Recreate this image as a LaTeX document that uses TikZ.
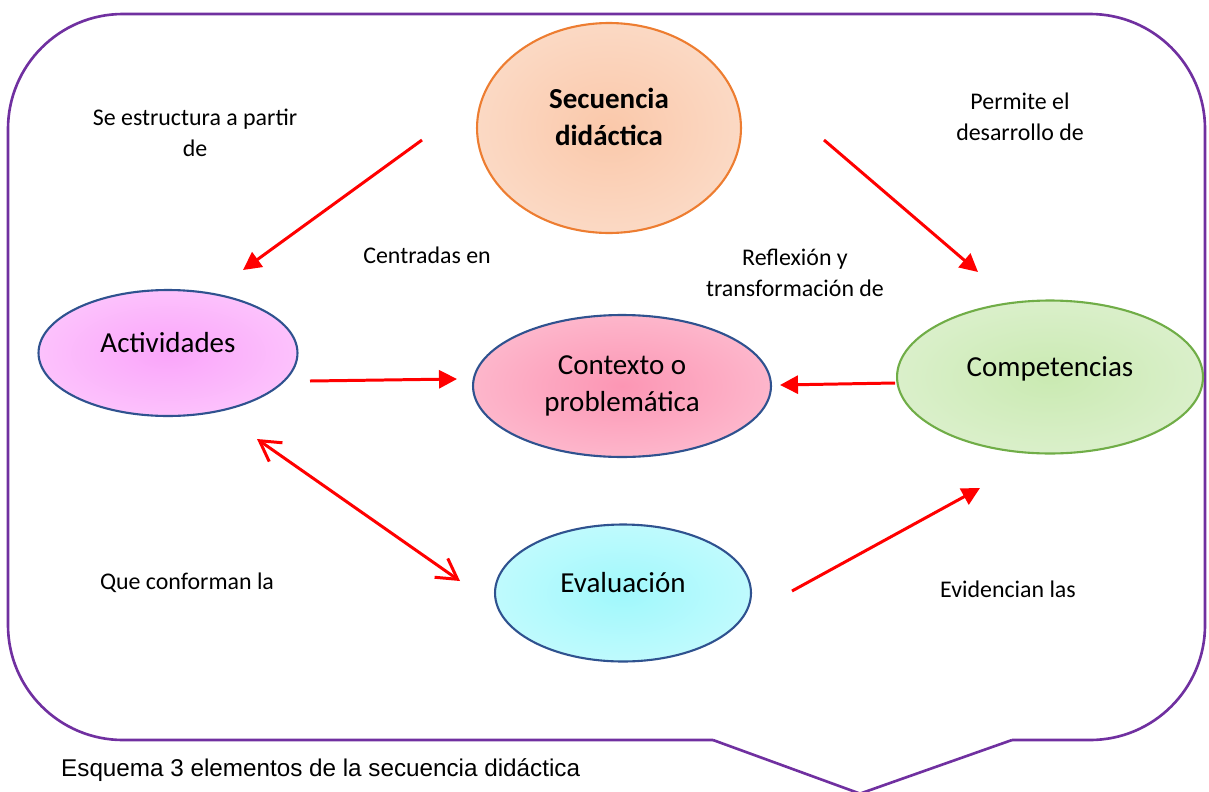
\documentclass[tikz,border=0pt]{standalone}
\usepackage{fontspec}
\setmainfont{Carlito}
\newfontfamily\piefont{Liberation Sans}
\usetikzlibrary{shapes.geometric,arrows.meta}

\definecolor{marco}{RGB}{112,48,160}
\definecolor{naranja}{RGB}{237,125,49}
\definecolor{azul}{RGB}{47,82,143}
\definecolor{verde}{RGB}{112,173,71}
\colorlet{burbin}{white}
\colorlet{burbout}{white}
\pgfdeclareradialshading[burbin,burbout]{burbuja}{\pgfpoint{0cm}{0cm}}{color(0bp)=(burbin); color(50bp)=(burbout); color(72bp)=(burbout)}

\tikzset{
    centro/.code={\colorlet{burbin}{#1}},
    orilla/.code={\colorlet{burbout}{#1}},
    burbuja/.style={ellipse, inner sep=0pt, line width=1.2pt, shading=burbuja, align=center,
        font=\fontsize{16.5}{21}\selectfont},
    subir/.style={text height=0.7em, text depth=0.8em},
    etiqueta/.style={align=center, font=\fontsize{13.6}{17.9}\selectfont},
    flecha/.style={red, line width=1.7pt, -{Triangle[length=3.6mm,width=3.6mm]}},
    doble/.style={red, line width=1.7pt, {Straight Barb[length=4mm,width=4.6mm]}-{Straight Barb[length=4mm,width=4.6mm]}},
}

\begin{document}
\begin{tikzpicture}[x=0.02cm, y=-0.02cm]
    \useasboundingbox (0,0) rectangle (1209,791);

    % marco del esquema
    \draw[marco, line width=1.5pt, rounded corners=2.3cm] (713,740) -- (8,740) -- (8,14) -- (1205,14) -- (1205,740) -- (1012,740);
    \draw[marco, line width=1.5pt, line join=round] (713,740) -- (860,793.6) -- (1012,740);

    % elementos
    \node[burbuja, draw=naranja, centro={rgb,255:red,250;green,200;blue,170}, orilla={rgb,255:red,253;green,234;blue,222},
        minimum width=5.28cm, minimum height=4.2cm, text height=2.5em, text depth=0.5em] (sec) at (609,128) {\textbf{Secuencia}\\\textbf{didáctica}};
    \node[burbuja, draw=azul, centro={rgb,255:red,250;green,165;blue,250}, orilla={rgb,255:red,254;green,222;blue,254},
        minimum width=5.18cm, minimum height=2.52cm, subir] (act) at (168,353) {Actividades};
    \node[burbuja, draw=azul, centro={rgb,255:red,252;green,150;blue,180}, orilla={rgb,255:red,254;green,214;blue,226},
        minimum width=5.96cm, minimum height=2.84cm] (ctx) at (622,386) {Contexto o\\problemática};
    \node[burbuja, draw=verde, centro={rgb,255:red,202;green,234;blue,178}, orilla={rgb,255:red,234;green,245;blue,226},
        minimum width=6.12cm, minimum height=3.06cm, subir] (comp) at (1050,377) {Competencias};
    \node[burbuja, draw=azul, centro={rgb,255:red,160;green,248;blue,252}, orilla={rgb,255:red,222;green,253;blue,254},
        minimum width=5.12cm, minimum height=2.74cm, subir] (eval) at (623,593) {Evaluación};

    % textos de las relaciones
    \node[etiqueta] (estructura) at (195,133) {Se estructura a partir\\de};
    \node[etiqueta] (permite) at (1020,117) {Permite el\\desarrollo de};
    \node[etiqueta] (centradas) at (427,255) {Centradas en};
    \node[etiqueta] (reflexion) at (795,273) {Reflexión y\\transformación de};
    \node[etiqueta] (conforman) at (187,583) {Que conforman la};
    \node[etiqueta] (evidencian) at (1008,589) {Evidencian las};

    % extremos de las flechas
    \coordinate (s1) at (422,140);   \coordinate (s2) at (243,270);
    \coordinate (p1) at (824,140);   \coordinate (p2) at (978,272);
    \coordinate (c1) at (310,381);   \coordinate (c2) at (457,379);
    \coordinate (r1) at (895,383);   \coordinate (r2) at (780,385);
    \coordinate (q1) at (257,439);   \coordinate (q2) at (460,581);
    \coordinate (e1) at (792,591);   \coordinate (e2) at (980,488);

    \draw[flecha] (s1) -- (s2);
    \draw[flecha] (p1) -- (p2);
    \draw[flecha] (c1) -- (c2);
    \draw[flecha] (r1) -- (r2);
    \draw[doble] (q1) -- (q2);
    \draw[flecha] (e1) -- (e2);

    \node[anchor=west, font=\piefont\fontsize{13.8}{16}\selectfont] (pie) at (55,770) {Esquema 3 elementos de la secuencia didáctica};
\end{tikzpicture}
\end{document}
